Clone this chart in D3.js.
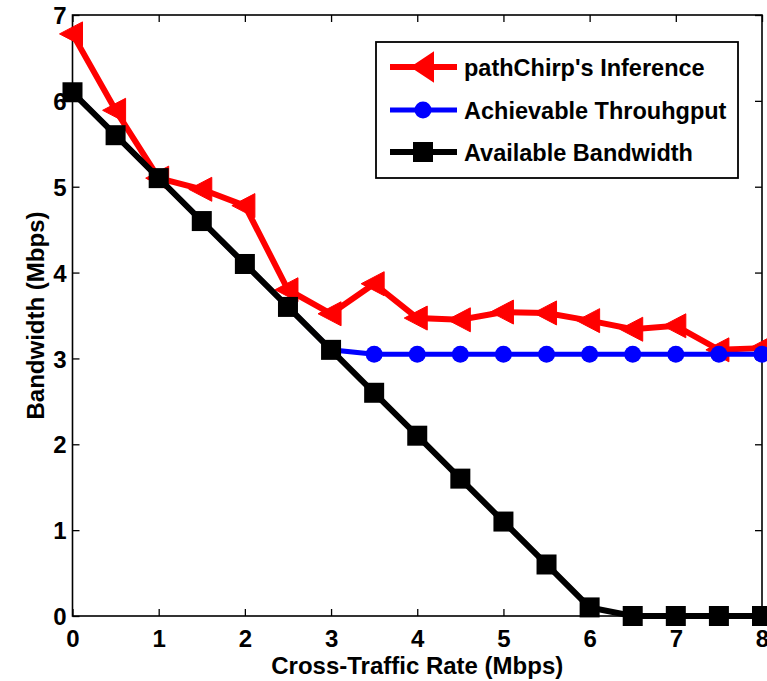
<!DOCTYPE html>
<html>
<head>
<meta charset="utf-8">
<script src="https://cdn.jsdelivr.net/npm/d3@7/dist/d3.min.js"></script>
<style>
  html, body { margin: 0; padding: 0; background: #fff; }
  svg { display: block; }
  text { font-family: "Liberation Sans", Arial, sans-serif; font-weight: bold; fill: #000; }
</style>
</head>
<body>
<svg id="chart" width="767" height="681"></svg>
<script>
// ---- data ----
const crossTraffic = [0, 0.5, 1, 1.5, 2, 2.5, 3, 3.5, 4, 4.5, 5, 5.5, 6, 6.5, 7, 7.5, 8];
const pathChirp   = [6.78, 5.89, 5.10, 4.97, 4.78, 3.80, 3.52, 3.87, 3.47, 3.45, 3.54, 3.53, 3.44, 3.34, 3.38, 3.10, 3.12];
const achievable  = [6.1, 5.6, 5.1, 4.6, 4.1, 3.6, 3.1, 3.05, 3.05, 3.05, 3.05, 3.05, 3.05, 3.05, 3.05, 3.05, 3.05];
const available   = [6.1, 5.6, 5.1, 4.6, 4.1, 3.6, 3.1, 2.6, 2.1, 1.6, 1.1, 0.6, 0.1, 0, 0, 0, 0];
const xTicks = [0, 1, 2, 3, 4, 5, 6, 7, 8];
const yTicks = [0, 1, 2, 3, 4, 5, 6, 7];
const seriesNames = ["pathChirp's Inference", "Achievable Throuhgput", "Available Bandwidth"];
const xLabel = "Cross-Traffic Rate (Mbps)";
const yLabel = "Bandwidth (Mbps)";

// ---- layout ----
const svg = d3.select("#chart");
const L = 72.5, R = 762, T = 15, B = 616;
const x = d3.scaleLinear().domain([0, 8]).range([L, R]);
const y = d3.scaleLinear().domain([0, 7]).range([B, T]);

// axes box
svg.append("rect").attr("x", L).attr("y", T).attr("width", R - L).attr("height", B - T)
  .attr("fill", "none").attr("stroke", "#000").attr("stroke-width", 1.6);

const tickLen = 7;
// bottom axis
const gx = svg.append("g").attr("transform", `translate(0,${B})`)
  .call(d3.axisBottom(x).tickValues(xTicks).tickSizeInner(-tickLen).tickSizeOuter(0).tickPadding(0).tickFormat(d3.format("d")));
gx.select(".domain").remove();
gx.selectAll("line").attr("stroke", "#000").attr("stroke-width", 1.3);
gx.selectAll("text").attr("y", 31).attr("dy", null).attr("font-size", 24).attr("font-family", null);
// top ticks
const gxt = svg.append("g").attr("transform", `translate(0,${T})`)
  .call(d3.axisTop(x).tickValues(xTicks).tickSizeInner(-tickLen).tickSizeOuter(0).tickFormat(""));
gxt.select(".domain").remove();
gxt.selectAll("line").attr("stroke", "#000").attr("stroke-width", 1.3);
// left axis
const gy = svg.append("g").attr("transform", `translate(${L},0)`)
  .call(d3.axisLeft(y).tickValues(yTicks).tickSizeInner(-tickLen).tickSizeOuter(0).tickPadding(0).tickFormat(d3.format("d")));
gy.select(".domain").remove();
gy.selectAll("line").attr("stroke", "#000").attr("stroke-width", 1.3);
gy.selectAll("text").attr("x", -6).attr("dy", "0.36em").attr("font-size", 24).attr("font-family", null);
// right ticks
const gyr = svg.append("g").attr("transform", `translate(${R},0)`)
  .call(d3.axisRight(y).tickValues(yTicks).tickSizeInner(-tickLen).tickSizeOuter(0).tickFormat(""));
gyr.select(".domain").remove();
gyr.selectAll("line").attr("stroke", "#000").attr("stroke-width", 1.3);

// axis labels
svg.append("text").attr("x", (L + R) / 2).attr("y", 674).attr("text-anchor", "middle")
  .attr("font-size", 24).text(xLabel);
svg.append("text").attr("transform", `translate(44,${(T + B) / 2}) rotate(-90)`)
  .attr("text-anchor", "middle").attr("font-size", 24).text(yLabel);

// ---- series ----
const line = d3.line().x(d => x(d[0])).y(d => y(d[1]));

function drawSeries(vals, color, width, marker) {
  const pts = crossTraffic.map((c, i) => [c, vals[i]]);
  const g = svg.append("g");
  g.append("path").datum(pts).attr("d", line).attr("fill", "none")
    .attr("stroke", color).attr("stroke-width", width).attr("stroke-linejoin", "miter");
  const m = g.selectAll("g.m").data(pts).enter().append("g")
    .attr("transform", d => `translate(${x(d[0])},${y(d[1])})`);
  marker(m, color);
}
const triMarker = (sel, c) => sel.append("path").attr("d", "M-13,0 L10,-12 L10,12 Z")
  .attr("fill", c).attr("stroke", c).attr("stroke-width", 1);
const triMarkerLegend = (sel, c) => sel.append("path").attr("d", "M-11,0 L10,-14 L10,14 Z")
  .attr("fill", c).attr("stroke", c).attr("stroke-width", 2);
const circMarker = (sel, c) => sel.append("circle").attr("r", 8.5).attr("fill", c);
const sqMarker = (sel, c) => sel.append("rect").attr("x", -10).attr("y", -10).attr("width", 20).attr("height", 20).attr("fill", c);

drawSeries(pathChirp, "#ff0000", 6, triMarker);
drawSeries(achievable, "#0000ff", 5, circMarker);
drawSeries(available, "#000000", 6, sqMarker);

// ---- legend ----
const lg = svg.append("g");
lg.append("rect").attr("x", 376).attr("y", 42).attr("width", 362).attr("height", 136)
  .attr("fill", "#fff").attr("stroke", "#000").attr("stroke-width", 1.8);
const legendItems = [
  { name: seriesNames[0], color: "#ff0000", w: 6, marker: triMarkerLegend },
  { name: seriesNames[1], color: "#0000ff", w: 5, marker: circMarker },
  { name: seriesNames[2], color: "#000000", w: 6, marker: sqMarker }
];
const rowY = [67, 110, 152];
legendItems.forEach((it, i) => {
  const ry = rowY[i];
  lg.append("line").attr("x1", 390).attr("x2", 457).attr("y1", ry).attr("y2", ry)
    .attr("stroke", it.color).attr("stroke-width", it.w);
  const mg = lg.append("g").attr("transform", `translate(423,${ry})`);
  it.marker(mg, it.color);
  lg.append("text").attr("x", 464).attr("y", ry + 8.5).attr("font-size", 23.5).text(it.name);
});
</script>
</body>
</html>
